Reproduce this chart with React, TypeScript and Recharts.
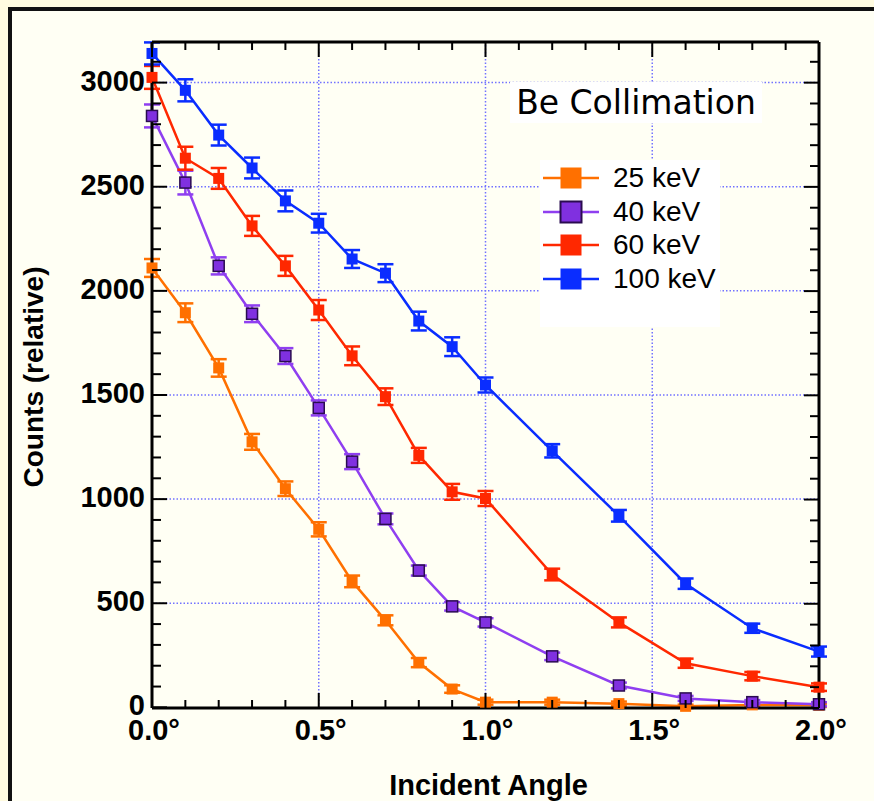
import { LineChart, Line, XAxis, YAxis, ErrorBar, ReferenceLine, Legend } from 'recharts'

// incident angle (degrees)
const angles = [0, 0.1, 0.2, 0.3, 0.4, 0.5, 0.6, 0.7, 0.8, 0.9, 1.0, 1.2, 1.4, 1.6, 1.8, 2.0]

const kev25 = [2110, 1895, 1630, 1275, 1050, 855, 605, 418, 215, 88, 25, 25, 18, 5, 12, 10]
const err25 = [43, 45, 42, 38, 35, 34, 28, 24, 22, 18, 12, 12, 10, 8, 8, 8]
const kev40 = [2840, 2520, 2120, 1890, 1687, 1438, 1180, 905, 657, 485, 408, 245, 105, 43, 25, 15]
const err40 = [55, 57, 41, 40, 38, 36, 36, 26, 24, 20, 20, 18, 14, 12, 10, 10]
const kev60 = [3025, 2637, 2540, 2312, 2120, 1908, 1688, 1492, 1210, 1035, 1003, 638, 408, 212, 150, 97]
const err60 = [55, 55, 50, 48, 48, 48, 45, 40, 36, 38, 36, 28, 24, 22, 20, 18]
const kev100 = [3140, 2963, 2748, 2590, 2432, 2325, 2153, 2085, 1855, 1732, 1548, 1232, 920, 594, 380, 268]
const err100 = [53, 53, 50, 50, 50, 45, 43, 43, 45, 45, 36, 32, 28, 25, 22, 24]

const xTicks = [0, 0.1, 0.2, 0.3, 0.4, 0.5, 0.6, 0.7, 0.8, 0.9, 1.0, 1.1, 1.2, 1.3, 1.4, 1.5, 1.6, 1.7, 1.8, 1.9, 2.0]
const yTicks = [0, 100, 200, 300, 400, 500, 600, 700, 800, 900, 1000, 1100, 1200, 1300, 1400, 1500, 1600, 1700, 1800, 1900, 2000, 2100, 2200, 2300, 2400, 2500, 2600, 2700, 2800, 2900, 3000, 3100]
const gridX = [0.5, 1.0, 1.5]
const gridY = [500, 1000, 1500, 2000, 2500, 3000]

const legendTitle = 'Be Collimation'

const series = [
    { key: 'kev25', err: 'err25', name: '25 keV', color: '#ff7000', edge: 'none' },
    { key: 'kev40', err: 'err40', name: '40 keV', color: '#8f3ff0', fill: '#8030e0', edge: '#2a0c50' },
    { key: 'kev60', err: 'err60', name: '60 keV', color: '#ff2800', edge: 'none' },
    { key: 'kev100', err: 'err100', name: '100 keV', color: '#0a2dff', edge: 'none' },
]

const data = angles.map((angle, i) => ({
    angle,
    kev25: kev25[i], err25: err25[i],
    kev40: kev40[i], err40: err40[i],
    kev60: kev60[i], err60: err60[i],
    kev100: kev100[i], err100: err100[i],
}))

const FONT = '"Liberation Sans", Arial, Helvetica, sans-serif'
const tickFont = { fontFamily: FONT, fontSize: 29, fontWeight: 700, fill: '#000' }

const isMajorX = (v: number) => Math.round(v * 10) % 5 === 0
const isMajorY = (v: number) => v % 500 === 0

// ticks point inwards, majors longer; labels only on majors
const BottomTick = ({ x, y, payload }: any) => {
    const major = isMajorX(payload.value)
    return (
        <g>
            <line x1={x} x2={x} y1={y} y2={y - (major ? 15 : 8)} stroke="#000" strokeWidth={2} />
            {major && (
                <text x={x + 2} y={y + 32} textAnchor="middle" style={tickFont}>
                    {payload.value.toFixed(1) + '°'}
                </text>
            )}
        </g>
    )
}

const TopTick = ({ x, y, payload }: any) => {
    const major = isMajorX(payload.value)
    return (
        <g>
            <line x1={x} x2={x} y1={y} y2={y + (major ? 15 : 8)} stroke="#000" strokeWidth={2} />
        </g>
    )
}

const LeftTick = ({ x, y, payload }: any) => {
    const major = isMajorY(payload.value)
    return (
        <g>
            <line x1={x} x2={x + (major ? 15 : 9)} y1={y} y2={y} stroke="#000" strokeWidth={2} />
            {major && (
                <text x={x - 7} y={y + 8} textAnchor="end" style={tickFont}>
                    {payload.value}
                </text>
            )}
        </g>
    )
}

const RightTick = ({ x, y, payload }: any) => {
    const major = isMajorY(payload.value)
    return (
        <g>
            <line x1={x} x2={x - (major ? 15 : 9)} y1={y} y2={y} stroke="#000" strokeWidth={2} />
        </g>
    )
}

const squareDot = (fill: string, edge: string) => (props: any) => {
    const { cx, cy, index } = props
    if (cx == null || cy == null) return <g key={index} />
    return (
        <rect
            key={index}
            x={cx - 5.5}
            y={cy - 5.5}
            width={11}
            height={11}
            fill={fill}
            stroke={edge}
            strokeWidth={edge === 'none' ? 0 : 1.5}
        />
    )
}

const LegendBox = () => (
    <div style={{ fontFamily: FONT }}>
        <div
            style={{
                width: 252,
                height: 41,
                background: '#fff',
                fontFamily: '"DejaVu Sans", sans-serif',
                fontSize: 33,
                lineHeight: '41px',
                textAlign: 'center',
                color: '#000',
            }}
        >
            {legendTitle}
        </div>
        <div style={{ marginLeft: 30, marginTop: 37, width: 180, height: 167, background: '#fff', paddingTop: 1, boxSizing: 'border-box' }}>
            {series.map((s) => (
                <div key={s.key} style={{ display: 'flex', alignItems: 'center', height: 33.7 }}>
                    <svg width={73} height={34} style={{ flex: 'none' }}>
                        <line x1={3} x2={59} y1={17} y2={17} stroke={s.color} strokeWidth={2.5} />
                        <rect
                            x={20.5}
                            y={6.5}
                            width={21}
                            height={21}
                            fill={s.fill || s.color}
                            stroke={s.edge}
                            strokeWidth={s.edge === 'none' ? 0 : 2}
                        />
                    </svg>
                    <span style={{ fontSize: 28, color: '#000', whiteSpace: 'nowrap' }}>{s.name}</span>
                </div>
            ))}
        </div>
    </div>
)

const xTitle = ({ viewBox }: any) => (
    <text x={viewBox.x + viewBox.width / 2 + 3} y={viewBox.y + 87} textAnchor="middle" style={tickFont}>
        Incident Angle
    </text>
)

const yTitle = ({ viewBox }: any) => {
    const cx = viewBox.x - 49
    const cy = viewBox.y + viewBox.height / 2 + 2
    return (
        <text x={cx} y={cy} transform={`rotate(-90 ${cx} ${cy})`} textAnchor="middle" style={{ ...tickFont, fontSize: 28 }}>
            Counts (relative)
        </text>
    )
}

export default function App() {
    return (
        <div style={{ position: 'absolute', left: 0, top: 0, width: 874, height: 801, overflow: 'hidden', background: '#fffbe0' }}>
            <div
                style={{
                    position: 'absolute',
                    left: 8,
                    top: 7,
                    width: 1000,
                    height: 1000,
                    border: '4px solid #111',
                    background: '#fffff4',
                }}
            />
            <div style={{ position: 'absolute', left: 0, top: 0 }}>
                <LineChart width={874} height={801} data={data} margin={{ top: 32, right: 45, bottom: 33, left: 92 }}>
                    <XAxis
                        xAxisId="bottom"
                        dataKey="angle"
                        type="number"
                        domain={[0, 2]}
                        ticks={xTicks}
                        interval={0}
                        height={60}
                        tickSize={0}
                        tickMargin={0}
                        tickLine={false}
                        tick={BottomTick}
                        axisLine={{ stroke: '#000', strokeWidth: 3 }}
                        label={{ content: xTitle }}
                    />
                    <XAxis
                        xAxisId="top"
                        dataKey="angle"
                        orientation="top"
                        type="number"
                        domain={[0, 2]}
                        ticks={xTicks}
                        interval={0}
                        height={10}
                        tickSize={0}
                        tickMargin={0}
                        tickLine={false}
                        tick={TopTick}
                        axisLine={{ stroke: '#000', strokeWidth: 3 }}
                    />
                    <YAxis
                        yAxisId="left"
                        type="number"
                        domain={[0, 3195]}
                        ticks={yTicks}
                        interval={0}
                        width={60}
                        tickSize={0}
                        tickMargin={0}
                        tickLine={false}
                        tick={LeftTick}
                        axisLine={{ stroke: '#000', strokeWidth: 3 }}
                        label={{ content: yTitle }}
                    />
                    <YAxis
                        yAxisId="right"
                        orientation="right"
                        type="number"
                        domain={[0, 3195]}
                        ticks={yTicks}
                        interval={0}
                        width={10}
                        tickSize={0}
                        tickMargin={0}
                        tickLine={false}
                        tick={RightTick}
                        axisLine={{ stroke: '#000', strokeWidth: 3 }}
                    />

                    {gridY.map((v) => (
                        <ReferenceLine
                            key={'gy' + v}
                            xAxisId="bottom"
                            yAxisId="left"
                            y={v}
                            stroke="#7272ff"
                            strokeWidth={1.5}
                            strokeDasharray="1.5 2"
                        />
                    ))}
                    {gridX.map((v) => (
                        <ReferenceLine
                            key={'gx' + v}
                            xAxisId="bottom"
                            yAxisId="left"
                            x={v}
                            stroke="#7272ff"
                            strokeWidth={1.5}
                            strokeDasharray="1.5 2"
                        />
                    ))}

                    {/* invisible copy so the mirrored top/right axes get a domain */}
                    <Line
                        xAxisId="top"
                        yAxisId="right"
                        dataKey="kev100"
                        stroke="none"
                        dot={false}
                        activeDot={false}
                        legendType="none"
                        isAnimationActive={false}
                    />

                    {series.map((s) => (
                        <Line
                            key={s.key}
                            xAxisId="bottom"
                            yAxisId="left"
                            dataKey={s.key}
                            name={s.name}
                            type="linear"
                            stroke={s.color}
                            strokeWidth={2.5}
                            dot={squareDot(s.fill || s.color, s.edge)}
                            activeDot={false}
                            isAnimationActive={false}
                        >
                            <ErrorBar
                                dataKey={s.err}
                                direction="y"
                                width={8}
                                stroke={s.color}
                                strokeWidth={2.5}
                                isAnimationActive={false}
                            />
                        </Line>
                    ))}

                    <Legend
                        layout="vertical"
                        align="center"
                        verticalAlign="middle"
                        content={<LegendBox />}
                        wrapperStyle={{ position: 'absolute', left: 510, top: 82, width: 252, height: 245 }}
                    />
                </LineChart>
            </div>
        </div>
    )
}
